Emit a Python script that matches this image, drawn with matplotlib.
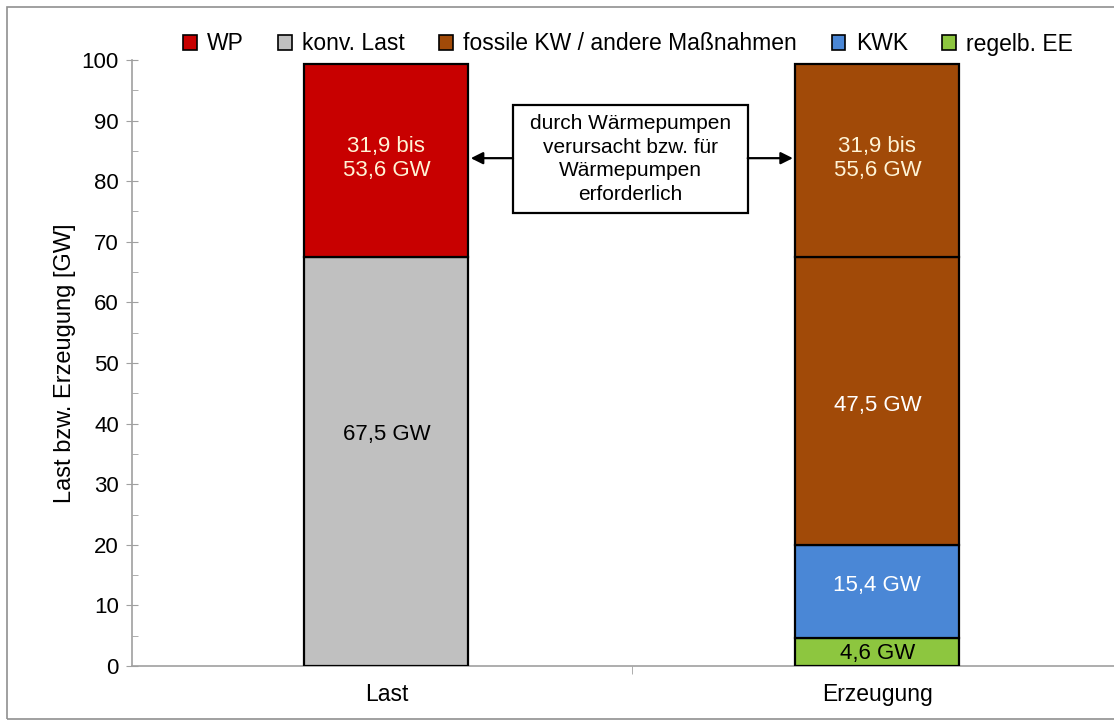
import matplotlib.pyplot as plt
from matplotlib.patches import Patch, Rectangle
from matplotlib.ticker import MultipleLocator, FixedLocator

plt.rcParams['font.family'] = ['Liberation Sans', 'DejaVu Sans']

categories = ['Last', 'Erzeugung']

# stacked segments, bottom to top: (bar index, value, legend group)
seg_bar = [0, 0, 1, 1, 1, 1]
seg_val = [67.5, 31.9, 4.6, 15.4, 47.5, 31.9]
seg_group = ['konv. Last', 'WP', 'regelb. EE', 'KWK',
             'fossile KW / andere Maßnahmen', 'fossile KW / andere Maßnahmen']
seg_label = ['67,5 GW', '31,9 bis\n53,6 GW', '4,6 GW', '15,4 GW',
             '47,5 GW', '31,9 bis\n55,6 GW']
seg_label_color = ['black', '#fff4d6', 'black', 'white', 'white', '#fff4d6']
seg_label_shift = [4.5, 0.3, -0.3, 1, -0.8, 0.3]

legend_order = ['WP', 'konv. Last', 'fossile KW / andere Maßnahmen', 'KWK', 'regelb. EE']
colors = {
    'WP': '#c80000',
    'konv. Last': '#c0c0c0',
    'fossile KW / andere Maßnahmen': '#a14a08',
    'KWK': '#4a87d6',
    'regelb. EE': '#8dc63f',
}

box_text = 'durch Wärmepumpen\nverursacht bzw. für\nWärmepumpen\nerforderlich'

fig = plt.figure(figsize=(11.14, 7.25), dpi=100)
ax = fig.add_axes([132 / 1114, 59 / 725, (1114 - 132) / 1114, 606 / 725])

bar_w = 0.334
bottoms = [0.0, 0.0]
for b, v, g, lab, lc, sh in zip(seg_bar, seg_val, seg_group, seg_label,
                                seg_label_color, seg_label_shift):
    ax.bar(b, v, bottom=bottoms[b], width=bar_w, color=colors[g],
           edgecolor='black', linewidth=1.6, zorder=3)
    ax.text(b, bottoms[b] + v / 2 + sh, lab, ha='center', va='center',
            color=lc, fontsize=16, linespacing=1.2, zorder=4)
    bottoms[b] += v

ax.set_xlim(-0.518, 1.482)
ax.set_ylim(0, 100)
ax.set_xticks([0, 1])
ax.set_xticklabels(categories, fontsize=16.5)
ax.xaxis.set_minor_locator(FixedLocator([0.5]))
ax.tick_params(axis='x', which='major', length=0, pad=12)
ax.tick_params(axis='x', which='minor', length=6, color='#a0a0a0', direction='out')

ax.yaxis.set_major_locator(MultipleLocator(10))
ax.yaxis.set_minor_locator(MultipleLocator(5))
ax.tick_params(axis='y', which='major', length=9, direction='inout',
               color='#a0a0a0', labelsize=16, pad=5)
ax.tick_params(axis='y', which='minor', length=4, direction='in', color='#a0a0a0')
ax.set_ylabel('Last bzw. Erzeugung [GW]', fontsize=17, labelpad=4)

for s in ['top', 'right']:
    ax.spines[s].set_visible(False)
for s in ['left', 'bottom']:
    ax.spines[s].set_color('#a0a0a0')
    ax.spines[s].set_linewidth(1.2)

# annotation box with arrows
bx0, bx1 = 0.258, 0.736
by0, by1 = 74.8, 92.6
ax.add_patch(Rectangle((bx0, by0), bx1 - bx0, by1 - by0, facecolor='white',
                       edgecolor='black', linewidth=1.6, zorder=5))
ax.text((bx0 + bx1) / 2, (by0 + by1) / 2, box_text, ha='center', va='center',
        fontsize=15, linespacing=1.3, zorder=6)
ay = 83.8
ax.annotate('', xy=(bar_w / 2 + 0.005, ay), xytext=(bx0, ay),
            arrowprops=dict(arrowstyle='-|>', color='black', lw=1.6,
                            mutation_scale=18, shrinkA=0, shrinkB=0), zorder=5)
ax.annotate('', xy=(1 - bar_w / 2 - 0.005, ay), xytext=(bx1, ay),
            arrowprops=dict(arrowstyle='-|>', color='black', lw=1.6,
                            mutation_scale=18, shrinkA=0, shrinkB=0), zorder=5)

handles = [Patch(facecolor=colors[g], edgecolor='black', linewidth=1.2, label=g)
           for g in legend_order]
fig.legend(handles=handles, loc='center', bbox_to_anchor=(628 / 1114, 1 - 44 / 725),
           ncol=5, frameon=False, fontsize=16.5, handlelength=0.6, handleheight=0.6,
           handletextpad=0.45, columnspacing=1.5)

fig.patches.append(Rectangle((7 / 1114, 6 / 725), 1.2, 1 - 13 / 725,
                             transform=fig.transFigure, fill=False,
                             edgecolor='#909090', linewidth=1.2))

fig.savefig('out.png', dpi=100)
